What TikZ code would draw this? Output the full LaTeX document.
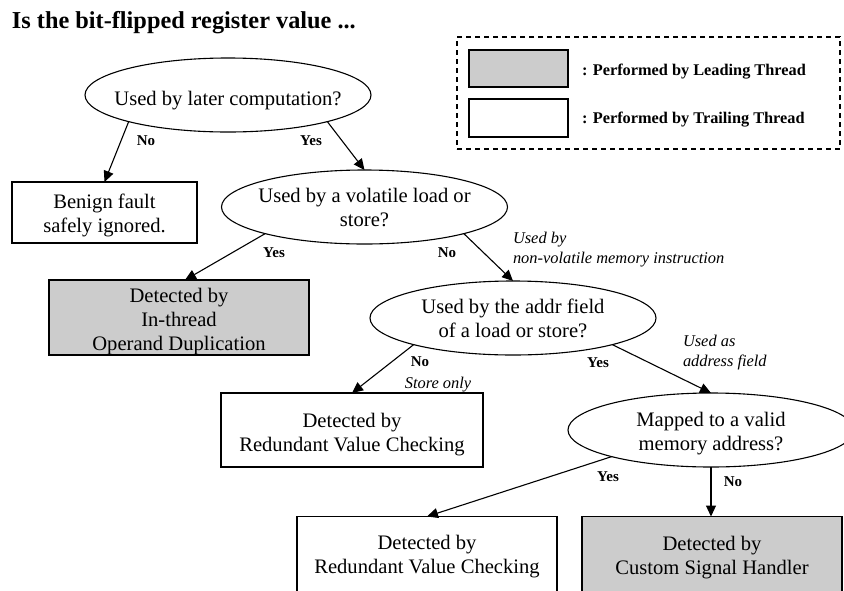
\documentclass[tikz,border=0pt]{standalone}
\usepackage{fontspec}
\setmainfont{Liberation Serif}
\usetikzlibrary{arrows.meta,shapes.geometric}
\definecolor{shade}{HTML}{CCCCCC}
\newcommand{\mlines}[1]{\begin{tabular}[t]{@{}c@{}}#1\end{tabular}}
\newcommand{\llines}[1]{\begin{tabular}[t]{@{}l@{}}#1\end{tabular}}
\begin{document}
\begin{tikzpicture}[x=1pt,y=-1pt,
 every node/.style={inner sep=0pt, outer sep=0pt},
 ell/.style={draw, ellipse, line width=1.1pt, minimum width=286pt, minimum height=74pt},
 boxw/.style={draw, rectangle, line width=1.1pt, fill=white},
 boxg/.style={boxw, fill=shade},
 body/.style={font=\fontsize{20.6}{24}\selectfont, anchor=base},
 yn/.style={font=\fontsize{15}{18}\selectfont\bfseries},
 note/.style={font=\fontsize{16.4}{20.5}\selectfont\itshape, anchor=base west},
 legtxt/.style={font=\fontsize{16.3}{19}\selectfont\bfseries, anchor=base west},
 conn/.style={line width=1.1pt, -{Triangle[length=11pt,width=10pt]}},
]
\useasboundingbox (0,0) rectangle (844,590);

% title
\node[font=\fontsize{24.3}{28}\selectfont\bfseries, anchor=base west] (title) at (12,28) {Is the bit-flipped register value ...};

% legend
\node[draw, dashed, dash pattern=on 5pt off 4pt, line width=1.1pt, minimum width=383pt, minimum height=112pt] (legend) at (648.5,93) {};
\node[boxg, minimum width=99pt, minimum height=37pt] (legg) at (518.5,68.5) {};
\node[boxw, minimum width=99pt, minimum height=38pt] (legw) at (518.5,118) {};
\node[legtxt] (leggt) at (582,75) {: Performed by Leading Thread};
\node[legtxt] (legwt) at (582,123) {: Performed by Trailing Thread};

% decision ellipses
\node[ell] (e1) at (228,95) {};
\node[body] (e1t) at (228,105) {Used by later computation?};
\node[ell] (e2) at (364.5,207) {};
\node[body] (e2t) at (364.5,202) {\mlines{Used by a volatile load or\\store?}};
\node[ell] (e3) at (513,318) {};
\node[body] (e3t) at (513,313) {\mlines{Used by the addr field\\of a load or store?}};
\node[ell] (e4) at (711,430) {};
\node[body] (e4t) at (711,426) {\mlines{Mapped to a valid\\memory address?}};

% outcome boxes
\node[boxw, minimum width=185pt, minimum height=61pt] (b1) at (104.5,212.5) {};
\node[body] (b1t) at (104.5,208) {\mlines{Benign fault\\safely ignored.}};
\node[boxg, minimum width=260pt, minimum height=75pt] (g1) at (179,317.5) {};
\node[body] (g1t) at (179,302) {\mlines{Detected by\\In-thread\\Operand Duplication}};
\node[boxw, minimum width=262pt, minimum height=74pt] (b2) at (352,430) {};
\node[body] (b2t) at (352,427) {\mlines{Detected by\\Redundant Value Checking}};
\node[boxw, minimum width=260pt, minimum height=75pt] (b3) at (427,554) {};
\node[body] (b3t) at (427,549) {\mlines{Detected by\\Redundant Value Checking}};
\node[boxg, minimum width=260pt, minimum height=75pt] (g2) at (712,554) {};
\node[body] (g2t) at (712,550) {\mlines{Detected by\\Custom Signal Handler}};

% connectors
\draw[conn] (e1.195) -- (b1.north);
\draw[conn] (e1.345) -- (e2.north);
\draw[conn] (e2.195) -- ([xshift=6pt]g1.north);
\draw[conn] (e2.345) -- (e3.north);
\draw[conn] (e3.195) -- (b2.north);
\draw[conn] (e3.345) -- (e4.north);
\draw[conn] (e4.195) -- (b3.north);
\draw[conn] (e4.south) -- (e4.south |- g2.north);

% edge labels
\node[yn] (l1) at (146,141) {No};
\node[yn] (l2) at (311,141) {Yes};
\node[yn] (l3) at (274,253) {Yes};
\node[yn] (l4) at (447,253) {No};
\node[note] (n1) at (513,243) {\llines{Used by\\non-volatile memory instruction}};
\node[yn] (l5) at (420,362) {No};
\node[note, anchor=base] (n2) at (438,388) {Store only};
\node[yn] (l6) at (598,363) {Yes};
\node[note] (n3) at (683,346) {\llines{Used as\\address field}};
\node[yn] (l7) at (608,477) {Yes};
\node[yn] (l8) at (733,482) {No};
\end{tikzpicture}
\end{document}
